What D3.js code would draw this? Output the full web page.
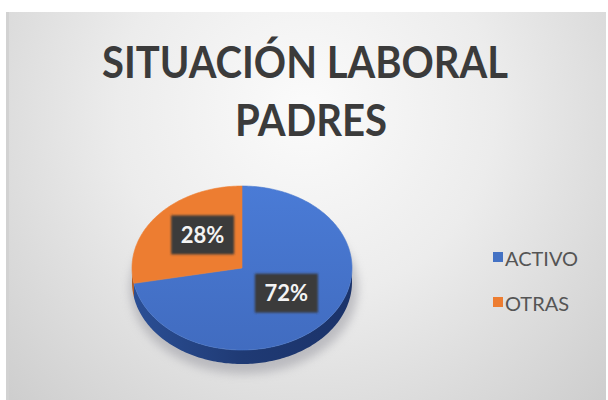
<!DOCTYPE html>
<html>
<head>
<meta charset="utf-8">
<script src="https://cdn.jsdelivr.net/npm/d3@7"></script>
<style>
  html, body { margin: 0; padding: 0; background: #ffffff; }
  svg { display: block; }
</style>
</head>
<body>
<svg id="chart" width="608" height="400"></svg>
<script>
// ---- data ----
const categories = ["ACTIVO", "OTRAS"];
const values = [72, 28];
const labels = ["72%", "28%"];
const titleLines = ["SITUACIÓN LABORAL", "PADRES"];

const colors = ["#4472C4", "#ED7D31"];
const sideColors = ["#264a8c", "#b35a1f"];

const svg = d3.select("#chart");
const W = 608, H = 400;

const defs = svg.append("defs");
const bg = defs.append("radialGradient").attr("id", "bg")
  .attr("gradientUnits", "userSpaceOnUse")
  .attr("cx", 306).attr("cy", 110).attr("r", 420);
bg.append("stop").attr("offset", "0").attr("stop-color", "#fbfbfb");
bg.append("stop").attr("offset", "0.45").attr("stop-color", "#ececec");
bg.append("stop").attr("offset", "1").attr("stop-color", "#cdcdcd");

const blur = defs.append("filter").attr("id", "shadow").attr("x", "-50%").attr("y", "-50%").attr("width", "200%").attr("height", "200%");
blur.append("feGaussianBlur").attr("stdDeviation", 5);
const blur2 = defs.append("filter").attr("id", "lblur").attr("x", "-20%").attr("y", "-20%").attr("width", "140%").attr("height", "140%");
blur2.append("feGaussianBlur").attr("stdDeviation", 0.8);

const topGrad = defs.append("linearGradient").attr("id", "topBlue").attr("x1", 0).attr("y1", 0).attr("x2", 0).attr("y2", 1);
topGrad.append("stop").attr("offset", "0").attr("stop-color", "#4a7bd6");
topGrad.append("stop").attr("offset", "1").attr("stop-color", "#416cc0");
const sideGrad = defs.append("linearGradient").attr("id", "sideBlue").attr("x1", 0).attr("y1", 0).attr("x2", 1).attr("y2", 0);
sideGrad.append("stop").attr("offset", "0").attr("stop-color", "#2b4f95");
sideGrad.append("stop").attr("offset", "0.5").attr("stop-color", "#1f3a74");
sideGrad.append("stop").attr("offset", "1").attr("stop-color", "#1b336a");

// background
svg.append("rect").attr("x", 6).attr("y", 12).attr("width", 600).attr("height", 388)
  .attr("fill", "url(#bg)");
svg.append("rect").attr("x", 6).attr("y", 12).attr("width", 3).attr("height", 388)
  .attr("fill", "#d2d2d2");

// title
const title = svg.append("text")
  .attr("text-anchor", "middle")
  .attr("font-family", "Lato, 'Open Sans', sans-serif")
  .attr("font-weight", "bold")
  .attr("font-size", 43)
  .attr("fill", "#3b3b3b");
title.append("tspan").attr("x", 305).attr("y", 78).attr("textLength", 406).attr("lengthAdjust", "spacingAndGlyphs").text(titleLines[0]);
title.append("tspan").attr("x", 311).attr("y", 136).attr("textLength", 152).attr("lengthAdjust", "spacingAndGlyphs").text(titleLines[1]);

// pie geometry
const cx = 242, cy = 268, rx = 110, ry = 82, depth = 14;
const pie = d3.pie().sort(null).startAngle(0).endAngle(2 * Math.PI);
const arcs = pie(values);

function pt(t, dy) { return [cx + rx * Math.sin(t), cy - ry * Math.cos(t) + (dy || 0)]; }
function arcPts(a0, a1, dy) {
  const n = Math.max(2, Math.ceil(Math.abs(a1 - a0) / 0.02));
  return d3.range(n + 1).map(i => pt(a0 + (a1 - a0) * i / n, dy));
}

// shadow
svg.append("ellipse").attr("cx", cx + 2).attr("cy", cy + depth + 6).attr("rx", rx + 4).attr("ry", ry + 4)
  .attr("fill", "#9a9aa2").attr("opacity", 0.55).attr("filter", "url(#shadow)");

const line = d3.line();

// sides (front half: angles between PI/2 and 3PI/2)
arcs.forEach((a, i) => {
  const s = Math.max(a.startAngle, Math.PI / 2);
  const e = Math.min(a.endAngle, 3 * Math.PI / 2);
  if (e <= s) return;
  const topP = arcPts(s, e, 0);
  const botP = arcPts(e, s, depth);
  svg.append("path").attr("d", line(topP.concat(botP)) + "Z")
    .attr("fill", i === 0 ? "url(#sideBlue)" : sideColors[i]);
});

// top faces
arcs.forEach((a, i) => {
  const p = [[cx, cy]].concat(arcPts(a.startAngle, a.endAngle, 0));
  svg.append("path").attr("d", line(p) + "Z")
    .attr("fill", i === 0 ? "url(#topBlue)" : colors[i])
    .attr("stroke", i === 0 ? "#4a78cc" : "#ee8236").attr("stroke-width", 0.6);
});

// data labels
arcs.forEach((a, i) => {
  const mid = (a.startAngle + a.endAngle) / 2;
  const lx = cx + rx * 0.5 * Math.sin(mid) + (i === 0 ? 2 : 3);
  const ly = cy - ry * 0.5 * Math.cos(mid) + (i === 0 ? -1 : -7);
  svg.append("rect").attr("x", lx - 31.5).attr("y", ly - 19.5).attr("width", 63).attr("height", 39)
    .attr("fill", "#3a3a3a").attr("filter", "url(#lblur)");
  svg.append("text").attr("x", lx).attr("y", ly + 8)
    .attr("text-anchor", "middle")
    .attr("font-family", "Lato, 'Open Sans', sans-serif")
    .attr("font-weight", "bold").attr("font-size", 22)
    .attr("fill", "#f4f4f4").text(labels[i]);
});

// legend
categories.forEach((c, i) => {
  const y = 258 + i * 45;
  svg.append("rect").attr("x", 493).attr("y", y - 6).attr("width", 10).attr("height", 10).attr("fill", colors[i]);
  svg.append("text").attr("x", 505).attr("y", y + 8)
    .attr("font-family", "Lato, 'Open Sans', sans-serif")
    .attr("font-size", 20).attr("fill", "#555555").text(c);
});
</script>
</body>
</html>
